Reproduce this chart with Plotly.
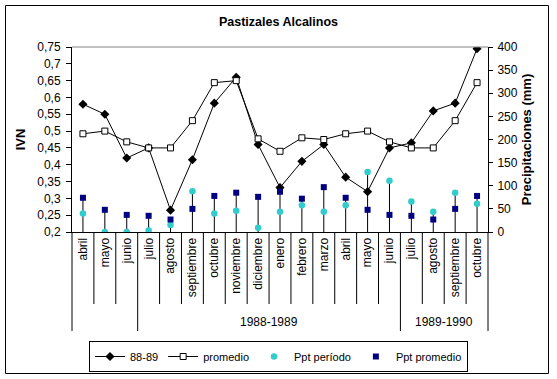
import plotly.graph_objects as go

# ---------------- data ----------------
months = ["abril", "mayo", "junio", "julio", "agosto", "septiembre", "octubre",
          "noviembre", "diciembre", "enero", "febrero", "marzo", "abril", "mayo",
          "junio", "julio", "agosto", "septiembre", "octubre"]
ivn_8889 = [0.58, 0.55, 0.42, 0.45, 0.265, 0.415, 0.583, 0.66, 0.46, 0.332,
            0.41, 0.46, 0.363, 0.32, 0.45, 0.465, 0.56, 0.583, 0.745]
ivn_promedio = [0.492, 0.50, 0.468, 0.45, 0.45, 0.531, 0.644, 0.65, 0.477, 0.44,
                0.48, 0.475, 0.492, 0.50, 0.468, 0.45, 0.45, 0.531, 0.644]
ppt_periodo = [40, 0, 0, 3, 15, 88, 40, 46, 9, 44, 58, 44, 58, 130, 111, 66, 44, 85, 61]
ppt_promedio = [74, 48, 37, 35, 27, 50, 78, 85, 76, 87, 72, 97, 74, 48, 37, 35, 27, 50, 78]
# group label, first category index, end index (exclusive)
group_labels = ["", "1988-1989", "1989-1990"]
group_start = [0, 3, 15]
group_end = [3, 15, 19]

ivn_ticks = [0.2, 0.25, 0.3, 0.35, 0.4, 0.45, 0.5, 0.55, 0.6, 0.65, 0.7, 0.75]
ivn_ticktext = ["0,2", "0,25", "0,3", "0,35", "0,4", "0,45", "0,5", "0,55",
                "0,6", "0,65", "0,7", "0,75"]
ppt_ticks = [0, 50, 100, 150, 200, 250, 300, 350, 400]

# ---------------- layout geometry ----------------
W, H = 557, 379
L, R, T, B = 72, 69, 47, 147
PW, PH = W - L - R, H - T - B
n = len(months)
idx = list(range(n))
FONT = "Liberation Sans, Arial, sans-serif"


def px_x(p):
    return (p - L) / PW


def px_y(p):
    return (H - B - p) / PH


fig = go.Figure()

# drop lines (from highest precipitation marker down to the axis)
drop_top = [max(a, b) for a, b in zip(ppt_periodo, ppt_promedio)]
fig.add_trace(go.Scatter(
    x=idx, y=drop_top, yaxis="y2", mode="markers",
    marker=dict(size=1, opacity=0), showlegend=False, hoverinfo="skip",
    error_y=dict(type="data", symmetric=False, array=[0] * n,
                 arrayminus=drop_top, width=0, thickness=1, color="black")))

fig.add_trace(go.Scatter(
    x=idx, y=ivn_8889, name="88-89", mode="lines+markers",
    line=dict(color="black", width=1),
    marker=dict(symbol="diamond", size=7, color="black")))
fig.add_trace(go.Scatter(
    x=idx, y=ivn_promedio, name="promedio", mode="lines+markers",
    line=dict(color="black", width=1),
    marker=dict(symbol="square", size=6, color="white",
                line=dict(color="black", width=1))))
fig.add_trace(go.Scatter(
    x=idx, y=ppt_periodo, name="Ppt período", mode="markers", yaxis="y2",
    marker=dict(symbol="circle", size=6.5, color="#33CCCC")))
fig.add_trace(go.Scatter(
    x=idx, y=ppt_promedio, name="Ppt promedio", mode="markers", yaxis="y2",
    marker=dict(symbol="square", size=6, color="#000080")))

shapes = []
# top border of plot area (gray)
shapes.append(dict(type="line", xref="paper", yref="paper", x0=0, x1=1, y0=1, y1=1,
                   line=dict(color="#808080", width=1)))
# month separators
group_bounds = set(group_start) | set(group_end)
for b in range(n + 1):
    y_end = px_y(331) if b in group_bounds else px_y(304)
    shapes.append(dict(type="line", xref="paper", yref="paper",
                       x0=b / n, x1=b / n, y0=0, y1=y_end,
                       line=dict(color="black", width=1)))
# outer frame
shapes.append(dict(type="rect", xref="paper", yref="paper",
                   x0=px_x(5.5), x1=px_x(548.5), y0=px_y(373.5), y1=px_y(5.5),
                   line=dict(color="black", width=1), fillcolor="rgba(0,0,0,0)",
                   layer="below"))

annotations = []
for lab, s, e in zip(group_labels, group_start, group_end):
    if lab:
        annotations.append(dict(text=lab, xref="paper", yref="paper",
                                 x=(s + e) / 2 / n, y=px_y(322), showarrow=False,
                                 xanchor="center", yanchor="middle",
                                 font=dict(size=12, color="black", family=FONT)))

fig.update_layout(
    width=W, height=H,
    margin=dict(l=L, r=R, t=T, b=B),
    paper_bgcolor="white", plot_bgcolor="white",
    font=dict(family=FONT, size=12, color="black"),
    title=dict(text="<b>Pastizales Alcalinos</b>", x=0.5, xref="container",
               xanchor="center", y=1 - 22 / H, yref="container", yanchor="middle",
               font=dict(size=12.5, family=FONT, color="black")),
    xaxis=dict(range=[-0.5, n - 0.5], tickmode="array", tickvals=idx,
               ticktext=months, tickangle=-90, ticks="", showgrid=False,
               zeroline=False, showline=True, linecolor="black", linewidth=1,
               tickfont=dict(size=12, family=FONT), fixedrange=True),
    yaxis=dict(range=[0.2, 0.75], tickmode="array", tickvals=ivn_ticks,
               ticktext=ivn_ticktext, ticks="outside", ticklen=5,
               tickcolor="black", showgrid=False, zeroline=False, showline=True,
               linecolor="black", linewidth=1, ticklabelstandoff=3,
               tickfont=dict(size=12, family=FONT),
               title=dict(text="<b>IVN</b>", standoff=8,
                          font=dict(size=13, family=FONT))),
    yaxis2=dict(range=[0, 400], overlaying="y", side="right", tickmode="array",
                tickvals=ppt_ticks, ticks="outside", ticklen=4, tickcolor="black",
                showgrid=False, zeroline=False, showline=True, linecolor="black",
                linewidth=1, ticklabelstandoff=2,
                tickfont=dict(size=12, family=FONT),
                title=dict(text="<b>Precipitaciones (mm)</b>", standoff=5,
                           font=dict(size=13, family=FONT))),
    legend=dict(orientation="h", xref="container", yref="container",
                x=0.5, xanchor="center", y=1 - 356.5 / H, yanchor="middle",
                bordercolor="black", borderwidth=1, bgcolor="white",
                font=dict(size=11, family=FONT), itemwidth=30,
                tracegroupgap=0),
    shapes=shapes, annotations=annotations,
    showlegend=True,
)

fig.write_html("out.html", config={"displayModeBar": False},
               post_script="document.body.style.margin='0px';document.body.style.overflow='hidden';")
